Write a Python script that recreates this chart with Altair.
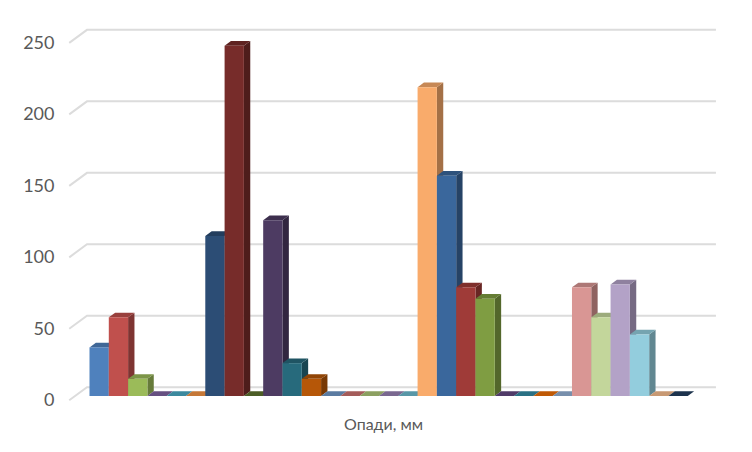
import altair as alt
import pandas as pd

# One value per bar, left to right
values = [34, 55, 12, 0, 0, 0, 112, 245, 0, 123, 23, 12, 0, 0, 0, 0, 0,
          216, 154, 76, 68, 0, 0, 0, 0, 76, 55, 78, 43, 0, 0]
colors = ["#4f81bd", "#c0504d", "#9bbb59", "#8064a2", "#4bacc6", "#f79646",
          "#2c4d75", "#772c2a", "#5f7530", "#4d3b62", "#276a7c", "#b65708",
          "#729aca", "#cd7371", "#afc97a", "#9983b5", "#6fbdd1", "#f9ab6b",
          "#3a679c", "#9f3b38", "#7f9d42", "#644a82", "#358ea6", "#ef7008",
          "#95b3d7", "#d99694", "#c3d69b", "#b3a2c7", "#93cddd", "#fac090",
          "#254061"]
ticks = [0, 50, 100, 150, 200, 250]
axis_title = "Опади, мм"

# 3-D look: bar depth and wall depth in scale units
BAR_DX, BAR_DY = 0.33, 3.3
WALL_DY, WALL_LEFT, WALL_RIGHT, WALL_FRONT_X, WALL_FRONT_DY = 6.1, -0.13, 32.46, -1.05, -3.0


def shade(hex_color, k):
    r, g, b = (int(hex_color[i:i + 2], 16) for i in (1, 3, 5))
    return "#%02x%02x%02x" % (int(r * k), int(g * k), int(b * k))


fronts, sides, tops = [], [], []
for i, (v, c) in enumerate(zip(values, colors)):
    fronts.append({"x0": i, "x1": i + 1, "y0": 0, "y1": v, "c": c})
    side_c, top_c = shade(c, 0.66), shade(c, 0.8)
    sides.append({"id": i, "sx": i + 1, "lo": 0, "hi": v, "c": side_c})
    sides.append({"id": i, "sx": i + 1 + BAR_DX, "lo": BAR_DY, "hi": v + BAR_DY, "c": side_c})
    tops.append({"id": i, "ty": v, "a": i, "b": i + 1, "c": top_c})
    tops.append({"id": i, "ty": v + BAR_DY, "a": i + BAR_DX, "b": i + 1 + BAR_DX, "c": top_c})

grid = []
for t in ticks:
    grid.append({"t": t, "o": 0, "x": WALL_FRONT_X, "y": t + WALL_FRONT_DY})
    grid.append({"t": t, "o": 1, "x": WALL_LEFT, "y": t + WALL_DY})
    grid.append({"t": t, "o": 2, "x": WALL_RIGHT, "y": t + WALL_DY})

x_scale = alt.Scale(domain=[-1.062, 33.24], nice=False, zero=False)
y_scale = alt.Scale(domain=[0, 263], nice=False)

walls = alt.Chart(pd.DataFrame(grid)).mark_line(color="#dcdcdc", strokeWidth=2, clip=False).encode(
    x=alt.X(
        "x:Q",
        scale=x_scale,
        title=axis_title,
        axis=alt.Axis(labels=False, ticks=False, domain=False, grid=False,
                      titleFont="Lato", titleFontSize=16, titleFontWeight="normal",
                      titleColor="#595959", titleX=314, titleY=28, titleBaseline="middle",
                      titleAlign="center"),
    ),
    y=alt.Y(
        "y:Q",
        scale=y_scale,
        title=None,
        axis=alt.Axis(values=ticks, ticks=False, domain=False, grid=False,
                      labelFont="Lato", labelFontSize=18, labelColor="#595959",
                      labelPadding=15, labelOffset=4.5),
    ),
    detail="t:N",
    order="o:Q",
)

side_layer = alt.Chart(pd.DataFrame(sides)).mark_area(orient="vertical", clip=False).encode(
    x=alt.X("sx:Q", scale=x_scale, title=axis_title),
    y=alt.Y("lo:Q", scale=y_scale, title=None),
    y2="hi:Q",
    color=alt.Color("c:N", scale=None),
    detail="id:N",
)

top_layer = alt.Chart(pd.DataFrame(tops)).mark_area(orient="horizontal", clip=False).encode(
    y=alt.Y("ty:Q", scale=y_scale, title=None),
    x=alt.X("a:Q", scale=x_scale, title=axis_title),
    x2=alt.X2("b:Q", title=axis_title),
    color=alt.Color("c:N", scale=None),
    detail="id:N",
)

front_layer = alt.Chart(pd.DataFrame(fronts)).mark_rect(clip=False).encode(
    x=alt.X("x0:Q", scale=x_scale, title=axis_title),
    x2=alt.X2("x1:Q", title=axis_title),
    y=alt.Y("y0:Q", scale=y_scale, title=None),
    y2="y1:Q",
    color=alt.Color("c:N", scale=None),
)

chart = (walls + side_layer + top_layer + front_layer).properties(
    width=662,
    height=376,
    padding={"left": 61, "top": 12, "right": 13, "bottom": 48},
    autosize="none",
    background="white",
).configure_view(stroke=None)

chart.save("out.html", embed_options={"renderer": "svg", "actions": False})
